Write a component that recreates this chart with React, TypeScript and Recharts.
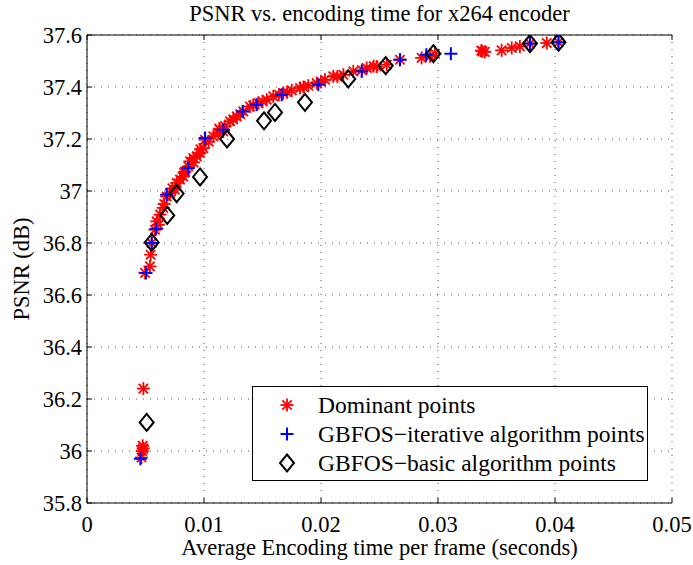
import React from "react";
import {
  ScatterChart,
  Scatter,
  XAxis,
  YAxis,
  CartesianGrid,
  Legend,
  Label,
} from "recharts";

// encoding time per frame (s) and PSNR (dB) for each operating point
const dominantTime = [
  0.00482, 0.00476, 0.0048, 0.00472, 0.00466,
  0.00496, 0.00538, 0.00544, 0.00553, 0.00581, 0.00596, 0.0061, 0.00624, 0.00652, 0.0066,
  0.00681, 0.00709, 0.0073, 0.00752, 0.00767, 0.00795, 0.00823, 0.0083, 0.00838, 0.00866,
  0.0088, 0.00909, 0.0091, 0.00938, 0.00966, 0.0097, 0.00994, 0.01009, 0.0104, 0.0108,
  0.01122, 0.0113, 0.01137, 0.01165, 0.0118, 0.01222, 0.0125, 0.0128, 0.0131, 0.01336,
  0.01393, 0.0142, 0.01464, 0.015, 0.01536, 0.01592, 0.0164, 0.01678, 0.0171, 0.0175,
  0.01821, 0.0185, 0.01892, 0.01963, 0.02, 0.02034, 0.02105, 0.0214, 0.02191, 0.02276,
  0.0235, 0.02391, 0.0245, 0.02476, 0.02562, 0.02675, 0.0286, 0.02932, 0.02974, 0.0337,
  0.0338, 0.034, 0.03544, 0.0363, 0.037, 0.03786, 0.0393, 0.0403,
];
const dominantPsnr = [
  36.24, 36.02, 36.01, 36.0, 35.975,
  36.685, 36.71, 36.755, 36.8, 36.851, 36.883, 36.87, 36.909, 36.935, 36.95,
  36.979, 36.992, 37.01, 37.005, 37.031, 37.044, 37.056, 37.07, 37.075, 37.095,
  37.114, 37.127, 37.11, 37.133, 37.146, 37.16, 37.165, 37.197, 37.19, 37.21,
  37.223, 37.24, 37.235, 37.229, 37.25, 37.268, 37.275, 37.287, 37.295, 37.306,
  37.325, 37.33, 37.338, 37.345, 37.351, 37.364, 37.37, 37.377, 37.38, 37.387,
  37.396, 37.4, 37.405, 37.415, 37.42, 37.428, 37.441, 37.44, 37.447, 37.46,
  37.465, 37.473, 37.48, 37.479, 37.486, 37.505, 37.512, 37.518, 37.528, 37.54,
  37.537, 37.535, 37.541, 37.55, 37.556, 37.567, 37.569, 37.572,
];

const iterativeTime = [
  0.00456, 0.00504, 0.00553, 0.0059, 0.00681, 0.00866, 0.01009, 0.01165, 0.0133,
  0.0145, 0.01664, 0.01977, 0.02348, 0.02675, 0.029, 0.0311, 0.03786, 0.0403,
];
const iterativePsnr = [
  35.97, 36.685, 36.8, 36.854, 36.986, 37.088, 37.204, 37.236, 37.306,
  37.332, 37.37, 37.409, 37.46, 37.505, 37.524, 37.528, 37.567, 37.572,
];

const basicTime = [
  0.0051, 0.00553, 0.00686, 0.00766, 0.00966, 0.01197, 0.01513, 0.01607, 0.01863,
  0.02233, 0.02553, 0.0296, 0.03786, 0.0403,
];
const basicPsnr = [
  36.11, 36.802, 36.906, 36.99, 37.054, 37.2, 37.27, 37.302, 37.341,
  37.431, 37.482, 37.528, 37.567, 37.572,
];

const xTicks = [0, 0.01, 0.02, 0.03, 0.04, 0.05];
const yTicks = [35.8, 36, 36.2, 36.4, 36.6, 36.8, 37, 37.2, 37.4, 37.6];

const legendLabels = [
  "Dominant points",
  "GBFOS\u2212iterative algorithm points",
  "GBFOS\u2212basic algorithm points",
];

const toPoints = (xs: number[], ys: number[]) => xs.map((x, i) => ({ x, y: ys[i] }));
const dominant = toPoints(dominantTime, dominantPsnr);
const iterative = toPoints(iterativeTime, iterativePsnr);
const basic = toPoints(basicTime, basicPsnr);

const FONT = "Liberation Serif";

function Asterisk({ cx, cy }: { cx?: number; cy?: number }) {
  if (cx == null || cy == null) return null;
  const r = 6.5;
  const d = r * 0.72;
  return (
    <g stroke="#ff0000" strokeWidth={1.8}>
      <line x1={cx - r} y1={cy} x2={cx + r} y2={cy} />
      <line x1={cx} y1={cy - r} x2={cx} y2={cy + r} />
      <line x1={cx - d} y1={cy - d} x2={cx + d} y2={cy + d} />
      <line x1={cx - d} y1={cy + d} x2={cx + d} y2={cy - d} />
    </g>
  );
}

function Plus({ cx, cy }: { cx?: number; cy?: number }) {
  if (cx == null || cy == null) return null;
  const r = 6.5;
  return (
    <g stroke="#0000ff" strokeWidth={2}>
      <line x1={cx - r} y1={cy} x2={cx + r} y2={cy} />
      <line x1={cx} y1={cy - r} x2={cx} y2={cy + r} />
    </g>
  );
}

function Diamond({ cx, cy }: { cx?: number; cy?: number }) {
  if (cx == null || cy == null) return null;
  const w = 7;
  const h = 8.5;
  return (
    <path
      d={`M${cx},${cy - h} L${cx + w},${cy} L${cx},${cy + h} L${cx - w},${cy} Z`}
      fill="none"
      stroke="#000"
      strokeWidth={2}
    />
  );
}

function LegendBox() {
  const markers = [Asterisk, Plus, Diamond];
  return (
    <svg width={396} height={95} style={{ display: "block" }}>
      <rect x={0.5} y={0.5} width={395} height={94} fill="#fff" stroke="#000" strokeWidth={1} />
      {legendLabels.map((label, i) => {
        const Marker = markers[i];
        const y = 19 + i * 29;
        return (
          <g key={label}>
            <Marker cx={35} cy={y} />
            <text x={66} y={y + 7.5} style={{ fontFamily: FONT, fontSize: 23.5 }} fill="#000">
              {label}
            </text>
          </g>
        );
      })}
    </svg>
  );
}

const tickStyle = { fontFamily: FONT, fontSize: 22.5, fill: "#000" };
const labelStyle = { fontFamily: FONT, fontSize: 22.5, fill: "#000" };

export default function App() {
  return (
    <div style={{ position: "absolute", left: 0, top: 0, background: "#fff", fontFamily: FONT }}>
      <ScatterChart
        width={693}
        height={565}
        margin={{ top: 5, right: 21, left: 27, bottom: 32 }}
      >
        <CartesianGrid stroke="#555" strokeDasharray="1 6" />
        <XAxis
          type="number"
          dataKey="x"
          domain={[0, 0.05]}
          ticks={xTicks}
          allowDataOverflow
          height={30}
          tick={tickStyle}
          tickFormatter={(v: number) => String(v)}
          tickSize={-5}
          tickMargin={18}
          axisLine={{ stroke: "#000" }}
          tickLine={{ stroke: "#000" }}
        >
          <Label
            value="Average Encoding time per frame (seconds)"
            position="insideBottom"
            offset={-22}
            style={labelStyle}
          />
        </XAxis>
        <XAxis
          xAxisId="top"
          orientation="top"
          type="number"
          dataKey="x"
          domain={[0, 0.05]}
          ticks={xTicks}
          allowDataOverflow
          height={30}
          tickFormatter={() => ""}
          tickSize={-5}
          axisLine={{ stroke: "#000" }}
          tickLine={{ stroke: "#000" }}
        >
          <Label
            value="PSNR vs. encoding time for x264 encoder"
            position="insideTop"
            offset={0}
            style={labelStyle}
          />
        </XAxis>
        <YAxis
          type="number"
          dataKey="y"
          domain={[35.8, 37.6]}
          ticks={yTicks}
          allowDataOverflow
          width={60}
          tick={tickStyle}
          tickFormatter={(v: number) => String(Math.round(v * 10) / 10)}
          tickSize={-5}
          tickMargin={10}
          axisLine={{ stroke: "#000" }}
          tickLine={{ stroke: "#000" }}
        >
          <Label
            value="PSNR (dB)"
            angle={-90}
            position="insideLeft"
            offset={-6}
            style={{ ...labelStyle, textAnchor: "middle" }}
          />
        </YAxis>
        <YAxis
          yAxisId="right"
          orientation="right"
          type="number"
          dataKey="y"
          domain={[35.8, 37.6]}
          ticks={yTicks}
          allowDataOverflow
          width={0}
          tickFormatter={() => ""}
          tickSize={-5}
          axisLine={{ stroke: "#000" }}
          tickLine={{ stroke: "#000" }}
        />
        <Legend
          layout="vertical"
          align="center"
          verticalAlign="middle"
          wrapperStyle={{ position: "absolute", left: 252, top: 386, width: 396, height: 95 }}
          content={() => <LegendBox />}
        />
        <Scatter data={dominant} shape={Asterisk} isAnimationActive={false} />
        <Scatter data={iterative} shape={Plus} isAnimationActive={false} />
        <Scatter data={basic} shape={Diamond} isAnimationActive={false} />
      </ScatterChart>
    </div>
  );
}
